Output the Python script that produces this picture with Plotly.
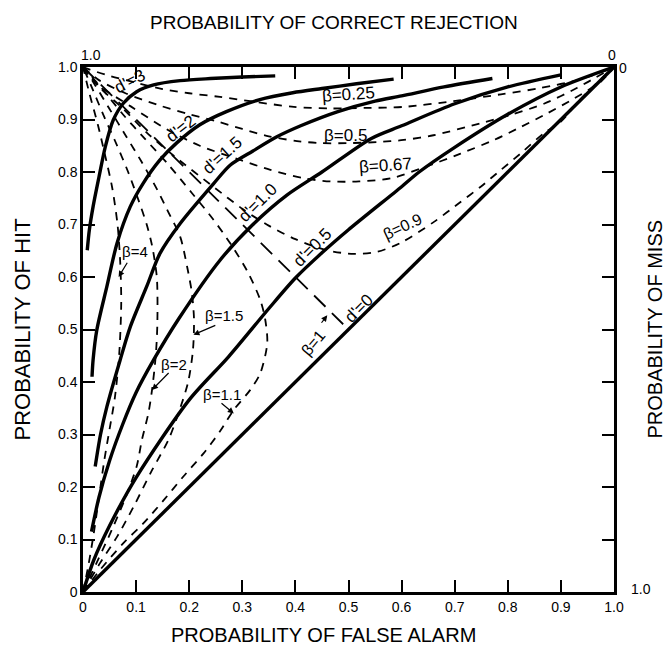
import plotly.graph_objects as go

# ---------------- data ----------------
# iso-sensitivity (d') ROC curves: false-alarm prob (F) vs hit prob (H)
D3_F = [0.008, 0.012, 0.019, 0.03, 0.042, 0.057, 0.076, 0.101, 0.133, 0.183, 0.24, 0.3, 0.362]
D3_H = [0.651, 0.69, 0.734, 0.79, 0.848, 0.899, 0.931, 0.953, 0.966, 0.974, 0.978, 0.981, 0.983]

D2_F = [0.017, 0.019, 0.026, 0.045, 0.064, 0.089, 0.113, 0.145, 0.176, 0.22, 0.27, 0.333, 0.395, 0.45, 0.515, 0.585]
D2_H = [0.41, 0.442, 0.499, 0.582, 0.664, 0.734, 0.778, 0.823, 0.855, 0.89, 0.915, 0.938, 0.951, 0.959, 0.968, 0.977]

D15_F = [0.023, 0.033, 0.045, 0.07, 0.089, 0.12, 0.145, 0.183, 0.246, 0.277, 0.32, 0.365, 0.41, 0.48, 0.55, 0.6, 0.68, 0.771]
D15_H = [0.239, 0.3, 0.353, 0.442, 0.505, 0.582, 0.645, 0.702, 0.778, 0.813, 0.84, 0.867, 0.888, 0.915, 0.935, 0.945, 0.962, 0.978]

D1_F = [0.016, 0.03, 0.05, 0.075, 0.1, 0.133, 0.18, 0.258, 0.32, 0.384, 0.45, 0.543, 0.6, 0.7, 0.8, 0.9]
D1_H = [0.115, 0.18, 0.25, 0.32, 0.38, 0.442, 0.52, 0.632, 0.7, 0.756, 0.8, 0.864, 0.888, 0.93, 0.962, 0.985]

D05_F = [0, 0.02, 0.05, 0.1, 0.2, 0.274, 0.35, 0.4, 0.45, 0.5, 0.6, 0.633, 0.7, 0.8, 0.9, 1.0]
D05_H = [0, 0.06, 0.126, 0.218, 0.366, 0.448, 0.54, 0.598, 0.646, 0.69, 0.772, 0.8, 0.847, 0.91, 0.962, 1.0]

D0_F = [0, 1.0]
D0_H = [0, 1.0]

# iso-bias (beta) curves
B025_F = [0, 0.013, 0.05, 0.1, 0.15, 0.2, 0.258, 0.321, 0.397, 0.466, 0.529, 0.604, 0.698, 0.787, 0.862, 0.938, 1.0]
B025_H = [1, 0.995, 0.983, 0.97, 0.958, 0.95, 0.943, 0.934, 0.924, 0.921, 0.922, 0.924, 0.935, 0.948, 0.96, 0.977, 1.0]

B05_F = [0, 0.03, 0.08, 0.14, 0.2, 0.25, 0.3, 0.35, 0.403, 0.447, 0.498, 0.554, 0.604, 0.66, 0.749, 0.806, 0.868, 0.93, 1.0]
B05_H = [1, 0.975, 0.95, 0.928, 0.91, 0.897, 0.882, 0.868, 0.859, 0.855, 0.855, 0.857, 0.861, 0.87, 0.893, 0.909, 0.93, 0.96, 1.0]

B067_F = [0, 0.03, 0.09, 0.16, 0.22, 0.296, 0.353, 0.416, 0.466, 0.52, 0.58, 0.64, 0.711, 0.774, 0.825, 0.875, 0.925, 0.975, 1.0]
B067_H = [1, 0.965, 0.925, 0.88, 0.85, 0.823, 0.804, 0.788, 0.782, 0.782, 0.788, 0.808, 0.835, 0.861, 0.886, 0.912, 0.94, 0.972, 1.0]

B09_F = [0, 0.03, 0.071, 0.12, 0.172, 0.248, 0.3, 0.346, 0.4, 0.459, 0.51, 0.554, 0.598, 0.661, 0.711, 0.749, 0.787, 0.825, 0.868, 0.9, 0.938, 1.0]
B09_H = [1, 0.962, 0.925, 0.875, 0.83, 0.77, 0.73, 0.70, 0.672, 0.651, 0.644, 0.648, 0.665, 0.705, 0.743, 0.772, 0.804, 0.836, 0.874, 0.896, 0.94, 1.0]

B1_F = [0, 0.49]
B1_H = [1, 0.51]

B11_F = [0, 0.032, 0.076, 0.114, 0.152, 0.189, 0.227, 0.258, 0.284, 0.315, 0.334, 0.347, 0.343, 0.334, 0.31, 0.28, 0.245, 0.205, 0.16, 0.115, 0.075, 0.035, 0]
B11_H = [0, 0.042, 0.093, 0.131, 0.175, 0.22, 0.264, 0.306, 0.347, 0.385, 0.417, 0.474, 0.52, 0.556, 0.61, 0.66, 0.71, 0.76, 0.815, 0.865, 0.91, 0.96, 1]

B15_F = [0, 0.032, 0.064, 0.095, 0.13, 0.161, 0.183, 0.198, 0.207, 0.209, 0.205, 0.196, 0.183, 0.16, 0.14, 0.11, 0.08, 0.05, 0.02, 0]
B15_H = [0, 0.055, 0.105, 0.162, 0.232, 0.29, 0.35, 0.4, 0.46, 0.52, 0.57, 0.62, 0.677, 0.725, 0.766, 0.82, 0.87, 0.92, 0.97, 1]

B2_F = [0, 0.03, 0.055, 0.08, 0.101, 0.111, 0.123, 0.13, 0.137, 0.14, 0.139, 0.13, 0.12, 0.105, 0.085, 0.06, 0.04, 0.015, 0]
B2_H = [0, 0.065, 0.12, 0.18, 0.239, 0.29, 0.34, 0.385, 0.45, 0.51, 0.6, 0.66, 0.7, 0.745, 0.8, 0.86, 0.905, 0.965, 1]

B4_F = [0, 0.01, 0.02, 0.03, 0.04, 0.05, 0.06, 0.068, 0.072, 0.07, 0.065, 0.055, 0.042, 0.028, 0.012, 0]
B4_H = [0, 0.05, 0.11, 0.18, 0.25, 0.31, 0.37, 0.45, 0.55, 0.63, 0.7, 0.77, 0.83, 0.89, 0.95, 1]

# tick labels
TICK_VALS = [0, 0.1, 0.2, 0.3, 0.4, 0.5, 0.6, 0.7, 0.8, 0.9, 1.0]
TICK_TEXT = ["0", "0.1", "0.2", "0.3", "0.4", "0.5", "0.6", "0.7", "0.8", "0.9", "1.0"]

# curve labels
LABEL_TEXT = ["d'=3", "d'=2", "d'=1.5", "d'=1.0", "d'=0.5", "d'=0", "β=1",
              "β=0.25", "β=0.5", "β=0.67", "β=0.9", "β=4", "β=1.5", "β=2", "β=1.1"]

# ---------------- layout / placement ----------------
LABEL_POS = [(0.088, 0.972, -28), (0.185, 0.882, -38), (0.262, 0.832, -42), (0.33, 0.741, -45),
             (0.432, 0.657, -45), (0.52, 0.54, -45), (0.434, 0.476, -50),
             (0.5, 0.947, -4), (0.494, 0.87, 0), (0.57, 0.813, -4), (0.602, 0.697, -25),
             (0.098, 0.648, 0), (0.266, 0.526, 0), (0.172, 0.434, 0), (0.262, 0.377, 0)]
LABEL_SIZE = [17, 17, 17, 17, 17, 17, 16, 17, 17, 17, 16, 15, 15, 15, 15]
ARROWS = [((0.067, 0.6), (0.085, 0.63)), ((0.208, 0.49), (0.252, 0.509)),
          ((0.13, 0.385), (0.164, 0.42)), ((0.284, 0.34), (0.258, 0.362)),
          ((0.46, 0.527), (0.447, 0.51))]

FONT = "Liberation Sans, Arial, sans-serif"
SOLID = dict(color="black", width=3.4, shape="spline", smoothing=0.8)
DASH = dict(color="black", width=1.8, dash="8px,7px", shape="spline", smoothing=0.8)
LONGDASH = dict(color="black", width=1.8, dash="16px,9px")

fig = go.Figure()
for fx, hy in [(D3_F, D3_H), (D2_F, D2_H), (D15_F, D15_H), (D1_F, D1_H), (D05_F, D05_H), (D0_F, D0_H)]:
    fig.add_trace(go.Scatter(x=fx, y=hy, mode="lines", line=SOLID, hoverinfo="skip"))
for fx, hy in [(B025_F, B025_H), (B05_F, B05_H), (B067_F, B067_H), (B09_F, B09_H),
               (B11_F, B11_H), (B15_F, B15_H), (B2_F, B2_H), (B4_F, B4_H)]:
    fig.add_trace(go.Scatter(x=fx, y=hy, mode="lines", line=DASH, hoverinfo="skip"))
fig.add_trace(go.Scatter(x=B1_F, y=B1_H, mode="lines", line=LONGDASH, hoverinfo="skip"))

for txt, (lx, ly, ang), sz in zip(LABEL_TEXT, LABEL_POS, LABEL_SIZE):
    fig.add_annotation(x=lx, y=ly, text=txt, textangle=ang, showarrow=False,
                       xanchor="center", yanchor="middle",
                       font=dict(family=FONT, size=sz, color="black"))
for (tx, ty), (sx, sy) in ARROWS:
    fig.add_annotation(x=tx, y=ty, ax=sx, ay=sy, xref="x", yref="y", axref="x", ayref="y",
                       text="", showarrow=True, arrowhead=2, arrowsize=1, arrowwidth=1.2,
                       arrowcolor="black")


def paper_text(txt, x, y, dx, dy, size, angle=0):
    fig.add_annotation(xref="paper", yref="paper", x=x, y=y, xshift=dx, yshift=dy,
                       xanchor="center", yanchor="middle", textangle=angle, showarrow=False,
                       text=txt, font=dict(family=FONT, size=size, color="black"))


# axis titles
paper_text("PROBABILITY OF FALSE ALARM", 0.452, 0, 0, -43, 20)
paper_text("PROBABILITY OF CORRECT REJECTION", 0.473, 1, 0, 45, 19)
paper_text("PROBABILITY OF HIT", 0, 0.5, -61, 0, 22, -90)
paper_text("PROBABILITY OF MISS", 1, 0.5, 40, 0, 20, -90)
# secondary-axis end labels
paper_text("1.0", 0, 1, 8, 12, 14)
paper_text("0", 1, 1, -2, 12, 14)
paper_text("0", 1, 1, 9, -1, 14)
paper_text("1.0", 1, 0, 27, 3, 14)

TF = dict(family=FONT, size=14, color="black")
axis_common = dict(range=[0, 1], tickvals=TICK_VALS, ticktext=TICK_TEXT, ticks="inside", ticklen=12,
                   tickwidth=2, tickcolor="black", showline=True, linewidth=2.5, linecolor="black",
                   mirror="ticks", showgrid=False, zeroline=False, tickfont=TF, fixedrange=True)
# page body has an 8px margin: figure is sized/offset so the plot box lands at
# x 83..614, y 67..592 in the 671x648 window
fig.update_layout(
    width=663, height=640, showlegend=False,
    margin=dict(l=75, r=57, t=59, b=56),
    paper_bgcolor="white", plot_bgcolor="white",
    xaxis=axis_common, yaxis=axis_common,
)
fig.write_html("out.html")
